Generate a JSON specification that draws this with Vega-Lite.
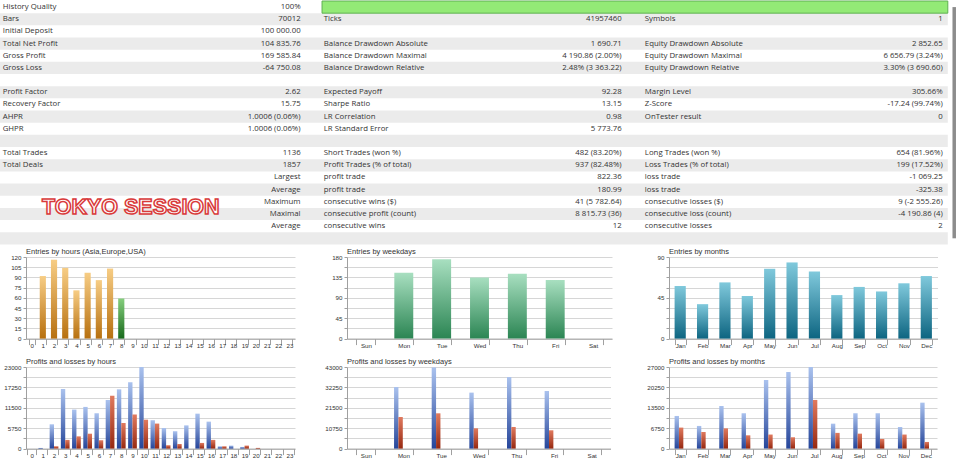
{
  "$schema": "https://vega.github.io/schema/vega-lite/v6.json",
  "padding": 0,
  "background": "white",
  "spacing": 3,
  "config": {
    "view": {"stroke": null},
    "font": "Liberation Sans",
    "axis": {"labelFont": "Liberation Sans", "labelFontSize": 6.2, "labelColor": "#333333", "domainColor": "#a0a0a0", "tickColor": "#a0a0a0", "gridColor": "#d6d6d6"},
    "axisX": {"tickSize": 6, "labelPadding": -2, "grid": false},
    "axisY": {"tickSize": 3, "labelPadding": 2, "grid": true},
    "title": {"font": "Liberation Sans", "fontSize": 7.5, "fontWeight": "normal", "color": "#333333", "anchor": "start", "frame": "group", "offset": -1.5}
  },
  "datasets": {
    "rows": [{"r":0},{"r":1},{"r":2},{"r":3},{"r":4},{"r":5},{"r":6},{"r":7},{"r":8},{"r":9},{"r":10},{"r":11},{"r":12},{"r":13},{"r":14},{"r":15},{"r":16},{"r":17},{"r":18},{"r":19}],
    "quality": [{"r":0,"pct":100}],
    "badge": [{"r":16,"c":0,"text":"TOKYO SESSION"}],
    "cells": [
      {"r":0,"c":0,"label":"History Quality","value":"100%"},
      {"r":1,"c":0,"label":"Bars","value":"70012"},
      {"r":1,"c":1,"label":"Ticks","value":"41957460"},
      {"r":1,"c":2,"label":"Symbols","value":"1"},
      {"r":2,"c":0,"label":"Initial Deposit","value":"100 000.00"},
      {"r":3,"c":0,"label":"Total Net Profit","value":"104 835.76"},
      {"r":3,"c":1,"label":"Balance Drawdown Absolute","value":"1 690.71"},
      {"r":3,"c":2,"label":"Equity Drawdown Absolute","value":"2 852.65"},
      {"r":4,"c":0,"label":"Gross Profit","value":"169 585.84"},
      {"r":4,"c":1,"label":"Balance Drawdown Maximal","value":"4 190.86 (2.00%)"},
      {"r":4,"c":2,"label":"Equity Drawdown Maximal","value":"6 656.79 (3.24%)"},
      {"r":5,"c":0,"label":"Gross Loss","value":"-64 750.08"},
      {"r":5,"c":1,"label":"Balance Drawdown Relative","value":"2.48% (3 363.22)"},
      {"r":5,"c":2,"label":"Equity Drawdown Relative","value":"3.30% (3 690.60)"},
      {"r":7,"c":0,"label":"Profit Factor","value":"2.62"},
      {"r":7,"c":1,"label":"Expected Payoff","value":"92.28"},
      {"r":7,"c":2,"label":"Margin Level","value":"305.66%"},
      {"r":8,"c":0,"label":"Recovery Factor","value":"15.75"},
      {"r":8,"c":1,"label":"Sharpe Ratio","value":"13.15"},
      {"r":8,"c":2,"label":"Z-Score","value":"-17.24 (99.74%)"},
      {"r":9,"c":0,"label":"AHPR","value":"1.0006 (0.06%)"},
      {"r":9,"c":1,"label":"LR Correlation","value":"0.98"},
      {"r":9,"c":2,"label":"OnTester result","value":"0"},
      {"r":10,"c":0,"label":"GHPR","value":"1.0006 (0.06%)"},
      {"r":10,"c":1,"label":"LR Standard Error","value":"5 773.76"},
      {"r":12,"c":0,"label":"Total Trades","value":"1136"},
      {"r":12,"c":1,"label":"Short Trades (won %)","value":"482 (83.20%)"},
      {"r":12,"c":2,"label":"Long Trades (won %)","value":"654 (81.96%)"},
      {"r":13,"c":0,"label":"Total Deals","value":"1857"},
      {"r":13,"c":1,"label":"Profit Trades (% of total)","value":"937 (82.48%)"},
      {"r":13,"c":2,"label":"Loss Trades (% of total)","value":"199 (17.52%)"},
      {"r":14,"c":0,"label":"","value":"Largest"},
      {"r":14,"c":1,"label":"profit trade","value":"822.36"},
      {"r":14,"c":2,"label":"loss trade","value":"-1 069.25"},
      {"r":15,"c":0,"label":"","value":"Average"},
      {"r":15,"c":1,"label":"profit trade","value":"180.99"},
      {"r":15,"c":2,"label":"loss trade","value":"-325.38"},
      {"r":16,"c":0,"label":"","value":"Maximum"},
      {"r":16,"c":1,"label":"consecutive wins ($)","value":"41 (5 782.64)"},
      {"r":16,"c":2,"label":"consecutive losses ($)","value":"9 (-2 555.26)"},
      {"r":17,"c":0,"label":"","value":"Maximal"},
      {"r":17,"c":1,"label":"consecutive profit (count)","value":"8 815.73 (36)"},
      {"r":17,"c":2,"label":"consecutive loss (count)","value":"-4 190.86 (4)"},
      {"r":18,"c":0,"label":"","value":"Average"},
      {"r":18,"c":1,"label":"consecutive wins","value":"12"},
      {"r":18,"c":2,"label":"consecutive losses","value":"2"}
    ],
    "hours": [{"h":1,"n":92},{"h":2,"n":116},{"h":3,"n":104},{"h":4,"n":71},{"h":5,"n":97},{"h":6,"n":86},{"h":7,"n":103},{"h":8,"n":59}],
    "weekdays": [{"d":"Mon","n":145},{"d":"Tue","n":175},{"d":"Wed","n":135},{"d":"Thu","n":143},{"d":"Fri","n":129}],
    "months": [{"m":"Jan","n":58},{"m":"Feb","n":38},{"m":"Mar","n":62},{"m":"Apr","n":47},{"m":"May","n":77},{"m":"Jun","n":84},{"m":"Jul","n":74},{"m":"Aug","n":48},{"m":"Sep","n":57},{"m":"Oct","n":52},{"m":"Nov","n":61},{"m":"Dec","n":69}],
    "plHours": [
      {"h":1,"t":"p","v":190},{"h":2,"t":"p","v":6850},{"h":3,"t":"p","v":16800},{"h":4,"t":"p","v":11000},{"h":5,"t":"p","v":11750},{"h":6,"t":"p","v":9950},{"h":7,"t":"p","v":13700},{"h":8,"t":"p","v":16700},{"h":9,"t":"p","v":18700},{"h":10,"t":"p","v":23000},{"h":11,"t":"p","v":8000},{"h":12,"t":"p","v":5800},{"h":13,"t":"p","v":4900},{"h":14,"t":"p","v":6550},{"h":15,"t":"p","v":9850},{"h":16,"t":"p","v":7600},{"h":17,"t":"p","v":650},{"h":18,"t":"p","v":850},{"h":19,"t":"p","v":470},
      {"h":2,"t":"l","v":650},{"h":3,"t":"l","v":2450},{"h":4,"t":"l","v":3450},{"h":5,"t":"l","v":4200},{"h":6,"t":"l","v":2350},{"h":7,"t":"l","v":14900},{"h":8,"t":"l","v":7200},{"h":9,"t":"l","v":9600},{"h":10,"t":"l","v":8150},{"h":11,"t":"l","v":7050},{"h":12,"t":"l","v":950},{"h":13,"t":"l","v":1300},{"h":15,"t":"l","v":1600},{"h":16,"t":"l","v":2450},{"h":17,"t":"l","v":650},{"h":19,"t":"l","v":850},{"h":20,"t":"l","v":200}
    ],
    "plWeekdays": [
      {"d":"Mon","t":"p","v":32450},{"d":"Tue","t":"p","v":42800},{"d":"Wed","t":"p","v":29500},{"d":"Thu","t":"p","v":37700},{"d":"Fri","t":"p","v":30350},
      {"d":"Mon","t":"l","v":16650},{"d":"Tue","t":"l","v":18600},{"d":"Wed","t":"l","v":10700},{"d":"Thu","t":"l","v":11400},{"d":"Fri","t":"l","v":9650}
    ],
    "plMonths": [
      {"m":"Jan","t":"p","v":10800},{"m":"Feb","t":"p","v":7500},{"m":"Mar","t":"p","v":14100},{"m":"Apr","t":"p","v":11700},{"m":"May","t":"p","v":22700},{"m":"Jun","t":"p","v":25350},{"m":"Jul","t":"p","v":27000},{"m":"Aug","t":"p","v":8250},{"m":"Sep","t":"p","v":11700},{"m":"Oct","t":"p","v":11700},{"m":"Nov","t":"p","v":7150},{"m":"Dec","t":"p","v":15200},
      {"m":"Jan","t":"l","v":6950},{"m":"Feb","t":"l","v":5500},{"m":"Mar","t":"l","v":6700},{"m":"Apr","t":"l","v":4400},{"m":"May","t":"l","v":4650},{"m":"Jun","t":"l","v":3750},{"m":"Jul","t":"l","v":16100},{"m":"Aug","t":"l","v":5200},{"m":"Sep","t":"l","v":4950},{"m":"Oct","t":"l","v":3200},{"m":"Nov","t":"l","v":4650},{"m":"Dec","t":"l","v":2200}
    ]
  },
  "vconcat": [
    {
      "width": 934,
      "height": 243.4,
      "layer": [
        {
          "data": {"name": "rows"},
          "transform": [{"filter": "datum.r % 2 == 1"}],
          "mark": {"type": "rect", "color": "#ebebeb"},
          "encoding": {
            "y": {"field": "r", "type": "ordinal", "scale": {"domain": [0,1,2,3,4,5,6,7,8,9,10,11,12,13,14,15,16,17,18,19], "paddingInner": 0, "paddingOuter": 0}, "axis": null},
            "x": {"datum": 0, "type": "quantitative", "scale": {"domain": [0, 2.99], "range": [-26, 934], "nice": false, "zero": false}, "axis": null},
            "x2": {"datum": 2.952}
          }
        },
        {
          "data": {"name": "quality"},
          "mark": {"type": "rect", "fill": "#93ea76", "stroke": "#5fb052", "strokeWidth": 1},
          "encoding": {
            "y": {"field": "r", "type": "ordinal", "scale": {"domain": [0,1,2,3,4,5,6,7,8,9,10,11,12,13,14,15,16,17,18,19], "paddingInner": 0, "paddingOuter": 0}, "axis": null},
            "x": {"datum": 1.003, "type": "quantitative", "scale": {"domain": [0, 2.99], "range": [-26, 934], "nice": false, "zero": false}, "axis": null},
            "x2": {"datum": 2.952}
          }
        },
        {
          "data": {"name": "cells"},
          "mark": {"type": "text", "align": "left", "baseline": "middle", "dx": 2.7, "font": "Open Sans", "fontSize": 7.8, "color": "#333333"},
          "encoding": {
            "y": {"field": "r", "type": "ordinal", "scale": {"domain": [0,1,2,3,4,5,6,7,8,9,10,11,12,13,14,15,16,17,18,19], "paddingInner": 0, "paddingOuter": 0}, "axis": null},
            "x": {"field": "c", "type": "quantitative", "scale": {"domain": [0, 2.99], "range": [-26, 934], "nice": false, "zero": false}, "axis": null},
            "text": {"field": "label"}
          }
        },
        {
          "data": {"name": "cells"},
          "mark": {"type": "text", "align": "right", "baseline": "middle", "dx": 300.6, "font": "Open Sans", "fontSize": 7.8, "color": "#333333"},
          "encoding": {
            "y": {"field": "r", "type": "ordinal", "scale": {"domain": [0,1,2,3,4,5,6,7,8,9,10,11,12,13,14,15,16,17,18,19], "paddingInner": 0, "paddingOuter": 0}, "axis": null},
            "x": {"field": "c", "type": "quantitative", "scale": {"domain": [0, 2.99], "range": [-26, 934], "nice": false, "zero": false}, "axis": null},
            "text": {"field": "value"}
          }
        },
        {
          "data": {"name": "badge"},
          "mark": {"type": "text", "align": "center", "baseline": "middle", "dx": 130.8, "font": "Liberation Sans", "fontWeight": "bold", "fontSize": 21.5, "fill": "#ffffff", "stroke": "#d93a3a", "strokeWidth": 1.5},
          "encoding": {
            "y": {"field": "r", "type": "ordinal", "bandPosition": 1, "scale": {"domain": [0,1,2,3,4,5,6,7,8,9,10,11,12,13,14,15,16,17,18,19], "paddingInner": 0, "paddingOuter": 0}, "axis": null},
            "x": {"field": "c", "type": "quantitative", "scale": {"domain": [0, 2.99], "range": [-26, 934], "nice": false, "zero": false}, "axis": null},
            "text": {"field": "text"}
          }
        },
        {
          "data": {"values": [{}]},
          "mark": {"type": "rule", "color": "#8c8c8c", "strokeWidth": 3.5},
          "encoding": {
            "x": {"datum": 2.972, "type": "quantitative", "scale": {"domain": [0, 2.99], "range": [-26, 934], "nice": false, "zero": false}, "axis": null},
            "y": {"datum": 0, "type": "ordinal", "scale": {"domain": [0,1,2,3,4,5,6,7,8,9,10,11,12,13,14,15,16,17,18,19], "paddingInner": 0, "paddingOuter": 0}, "axis": null},
            "y2": {"datum": 19}
          }
        }
      ]
    },
    {
      "spacing": 9,
      "vconcat": [
        {
          "spacing": 25,
          "hconcat": [
            {
              "width": 269, "height": 81.6,
              "title": {"text": "Entries by hours (Asia,Europe,USA)"},
              "data": {"name": "hours"},
              "encoding": {
                "x": {"field": "h", "type": "ordinal", "title": null, "scale": {"domain": [0,1,2,3,4,5,6,7,8,9,10,11,12,13,14,15,16,17,18,19,20,21,22,23], "paddingInner": 0.45, "paddingOuter": 0.225}, "axis": {"labelAngle": 0, "tickBand": "extent"}},
                "y": {"field": "n", "type": "quantitative", "title": null, "scale": {"domain": [0, 120], "nice": false}, "axis": {"values": [0,15,30,45,60,75,90,105,120], "format": "d", "minExtent": 26, "maxExtent": 26}}
              },
              "layer": [
                {"transform": [{"filter": "datum.h != 8"}], "mark": {"type": "bar", "color": {"gradient": "linear", "x1": 0, "y1": 0, "x2": 0, "y2": 1, "stops": [{"offset": 0, "color": "#f7cd85"}, {"offset": 1, "color": "#b7700f"}]}}},
                {"transform": [{"filter": "datum.h == 8"}], "mark": {"type": "bar", "color": {"gradient": "linear", "x1": 0, "y1": 0, "x2": 0, "y2": 1, "stops": [{"offset": 0, "color": "#86cf7e"}, {"offset": 1, "color": "#17691b"}]}}}
              ]
            },
            {
              "width": 265, "height": 81.6,
              "title": {"text": "Entries by weekdays"},
              "data": {"name": "weekdays"},
              "mark": {"type": "bar", "color": {"gradient": "linear", "x1": 0, "y1": 0, "x2": 0, "y2": 1, "stops": [{"offset": 0, "color": "#a8dfc0"}, {"offset": 1, "color": "#2b8553"}]}},
              "encoding": {
                "x": {"field": "d", "type": "nominal", "title": null, "scale": {"domain": ["Sun","Mon","Tue","Wed","Thu","Fri","Sat"], "paddingInner": 0.5, "paddingOuter": 0.25}, "axis": {"labelAngle": 0, "tickBand": "extent"}},
                "y": {"field": "n", "type": "quantitative", "title": null, "scale": {"domain": [0, 180], "nice": false}, "axis": {"values": [0,22.5,45,67.5,90,112.5,135,157.5,180], "format": "d", "labelExpr": "datum.value % 45 == 0 ? datum.label : ''", "minExtent": 26.5, "maxExtent": 26.5}}
              }
            },
            {
              "width": 268.5, "height": 81.6,
              "title": {"text": "Entries by months"},
              "data": {"name": "months"},
              "mark": {"type": "bar", "color": {"gradient": "linear", "x1": 0, "y1": 0, "x2": 0, "y2": 1, "stops": [{"offset": 0, "color": "#80c9dc"}, {"offset": 1, "color": "#0d6581"}]}},
              "encoding": {
                "x": {"field": "m", "type": "nominal", "title": null, "scale": {"domain": ["Jan","Feb","Mar","Apr","May","Jun","Jul","Aug","Sep","Oct","Nov","Dec"], "paddingInner": 0.5, "paddingOuter": 0.25}, "axis": {"labelAngle": 0, "tickBand": "extent"}},
                "y": {"field": "n", "type": "quantitative", "title": null, "scale": {"domain": [0, 90], "nice": false}, "axis": {"values": [0,11.25,22.5,33.75,45,56.25,67.5,78.75,90], "format": "d", "labelExpr": "datum.value % 45 == 0 ? datum.label : ''", "minExtent": 31.5, "maxExtent": 31.5}}
              }
            }
          ]
        },
        {
          "spacing": 25,
          "hconcat": [
            {
              "width": 269, "height": 81.6,
              "title": {"text": "Profits and losses by hours"},
              "data": {"name": "plHours"},
              "encoding": {
                "x": {"field": "h", "type": "ordinal", "title": null, "scale": {"domain": [0,1,2,3,4,5,6,7,8,9,10,11,12,13,14,15,16,17,18,19,20,21,22,23], "paddingInner": 0.22, "paddingOuter": 0.11}, "axis": {"labelAngle": 0, "tickBand": "extent"}},
                "xOffset": {"field": "t", "type": "nominal", "scale": {"domain": ["p","l"], "paddingInner": 0, "paddingOuter": 0}},
                "y": {"field": "v", "type": "quantitative", "title": null, "scale": {"domain": [0, 23000], "nice": false}, "axis": {"values": [0,2875,5750,8625,11500,14375,17250,20125,23000], "format": "d", "labelExpr": "datum.value % 5750 == 0 ? datum.label : ''", "minExtent": 26, "maxExtent": 26}}
              },
              "layer": [
                {"transform": [{"filter": "datum.t == 'p'"}], "mark": {"type": "bar", "color": {"gradient": "linear", "x1": 0, "y1": 0, "x2": 0, "y2": 1, "stops": [{"offset": 0, "color": "#aac2ee"}, {"offset": 1, "color": "#25459a"}]}}},
                {"transform": [{"filter": "datum.t == 'l'"}], "mark": {"type": "bar", "color": {"gradient": "linear", "x1": 0, "y1": 0, "x2": 0, "y2": 1, "stops": [{"offset": 0, "color": "#e07a5f"}, {"offset": 1, "color": "#962810"}]}}}
              ]
            },
            {
              "width": 263.5, "height": 81.6,
              "title": {"text": "Profits and losses by weekdays"},
              "data": {"name": "plWeekdays"},
              "encoding": {
                "x": {"field": "d", "type": "nominal", "title": null, "scale": {"domain": ["Sun","Mon","Tue","Wed","Thu","Fri","Sat"], "paddingInner": 0.5, "paddingOuter": 0.25}, "axis": {"labelAngle": 0, "tickBand": "extent"}},
                "xOffset": {"field": "t", "type": "nominal", "scale": {"domain": ["p","l"], "paddingInner": 0, "paddingOuter": 0}},
                "y": {"field": "v", "type": "quantitative", "title": null, "scale": {"domain": [0, 43000], "nice": false}, "axis": {"values": [0,5375,10750,16125,21500,26875,32250,37625,43000], "format": "d", "labelExpr": "datum.value % 10750 == 0 ? datum.label : ''", "minExtent": 26.5, "maxExtent": 26.5}}
              },
              "layer": [
                {"transform": [{"filter": "datum.t == 'p'"}], "mark": {"type": "bar", "color": {"gradient": "linear", "x1": 0, "y1": 0, "x2": 0, "y2": 1, "stops": [{"offset": 0, "color": "#aac2ee"}, {"offset": 1, "color": "#25459a"}]}}},
                {"transform": [{"filter": "datum.t == 'l'"}], "mark": {"type": "bar", "color": {"gradient": "linear", "x1": 0, "y1": 0, "x2": 0, "y2": 1, "stops": [{"offset": 0, "color": "#e07a5f"}, {"offset": 1, "color": "#962810"}]}}}
              ]
            },
            {
              "width": 268, "height": 81.6,
              "title": {"text": "Profits and losses by months"},
              "data": {"name": "plMonths"},
              "encoding": {
                "x": {"field": "m", "type": "nominal", "title": null, "scale": {"domain": ["Jan","Feb","Mar","Apr","May","Jun","Jul","Aug","Sep","Oct","Nov","Dec"], "paddingInner": 0.5, "paddingOuter": 0.25}, "axis": {"labelAngle": 0, "tickBand": "extent"}},
                "xOffset": {"field": "t", "type": "nominal", "scale": {"domain": ["p","l"], "paddingInner": 0, "paddingOuter": 0}},
                "y": {"field": "v", "type": "quantitative", "title": null, "scale": {"domain": [0, 27000], "nice": false}, "axis": {"values": [0,3375,6750,10125,13500,16875,20250,23625,27000], "format": "d", "labelExpr": "datum.value % 6750 == 0 ? datum.label : ''", "minExtent": 33, "maxExtent": 33}}
              },
              "layer": [
                {"transform": [{"filter": "datum.t == 'p'"}], "mark": {"type": "bar", "color": {"gradient": "linear", "x1": 0, "y1": 0, "x2": 0, "y2": 1, "stops": [{"offset": 0, "color": "#aac2ee"}, {"offset": 1, "color": "#25459a"}]}}},
                {"transform": [{"filter": "datum.t == 'l'"}], "mark": {"type": "bar", "color": {"gradient": "linear", "x1": 0, "y1": 0, "x2": 0, "y2": 1, "stops": [{"offset": 0, "color": "#e07a5f"}, {"offset": 1, "color": "#962810"}]}}}
              ]
            }
          ]
        }
      ]
    }
  ]
}
